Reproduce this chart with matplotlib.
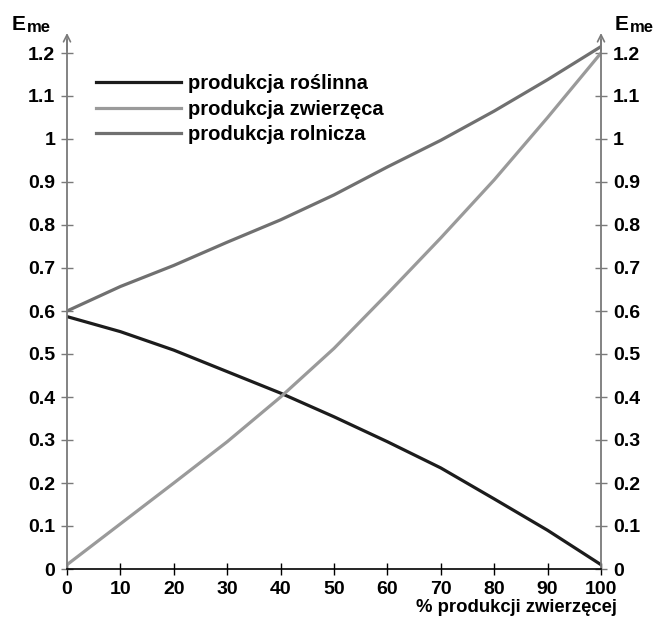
import matplotlib
matplotlib.use('Agg')
import matplotlib.pyplot as plt

plt.rcParams['font.family'] = ['Liberation Sans', 'DejaVu Sans']
plt.rcParams['font.weight'] = 'bold'

# udział produkcji zwierzęcej [%]
udzial = [0, 10, 20, 30, 40, 50, 60, 70, 80, 90, 100]
# Eme
roslinna = [0.587, 0.552, 0.509, 0.459, 0.409, 0.354, 0.296, 0.235, 0.163, 0.090, 0.010]
zwierzeca = [0.010, 0.105, 0.200, 0.296, 0.400, 0.513, 0.640, 0.770, 0.905, 1.050, 1.200]
rolnicza = [0.600, 0.657, 0.706, 0.760, 0.812, 0.870, 0.935, 0.997, 1.065, 1.138, 1.215]

y_ticks = [0, 0.1, 0.2, 0.3, 0.4, 0.5, 0.6, 0.7, 0.8, 0.9, 1, 1.1, 1.2]
y_labels = ['0', '0.1', '0.2', '0.3', '0.4', '0.5', '0.6', '0.7', '0.8', '0.9', '1', '1.1', '1.2']

fig = plt.figure(figsize=(6.57, 6.24), dpi=100)
ax = fig.add_axes([67 / 657, 55 / 624, (601 - 67) / 657, (569 - 40) / 624])

ax.plot(udzial, roslinna, color='#1c1c1c', lw=2.3, label='produkcja roślinna')
ax.plot(udzial, zwierzeca, color='#9a9a9a', lw=2.3, label='produkcja zwierzęca')
ax.plot(udzial, rolnicza, color='#707070', lw=2.3, label='produkcja rolnicza')

ax.set_xlim(0, 100)
ax.set_ylim(0, (569 - 40) / 430)

ax.spines['top'].set_visible(False)
for s in ['left', 'right']:
    ax.spines[s].set_color('#7a7a7a')
    ax.spines[s].set_linewidth(1.3)
ax.spines['bottom'].set_color('black')
ax.spines['bottom'].set_linewidth(1.2)

ax.set_xticks(range(0, 101, 10))
ax.set_yticks(y_ticks)
ax.set_yticklabels(y_labels)
ax.tick_params(axis='x', direction='inout', length=9, width=1, colors='black',
               labelsize=14, pad=4)
ax.tick_params(axis='y', direction='inout', length=9, width=1, color='#7a7a7a',
               labelcolor='black', labelsize=14, pad=4,
               left=True, right=True, labelleft=True, labelright=True)

# strzałki na końcach osi pionowych (otwarty grot)
for xa in [0, 1]:
    ax.annotate('', xy=(xa, 1 + 7 / 529), xytext=(xa, 0.98), xycoords='axes fraction',
                arrowprops=dict(arrowstyle='->,head_length=0.5,head_width=0.25',
                                color='#7a7a7a', lw=1.2, shrinkA=0, shrinkB=0))

# opis osi pionowych: E z indeksem "me"
for x0 in [12, 615]:
    fig.text(x0 / 657, 1 - 30 / 624, 'E', fontsize=15, fontweight='bold',
             ha='left', va='baseline')
    fig.text((x0 + 15) / 657, 1 - 32 / 624, 'me', fontsize=12, fontweight='bold',
             ha='left', va='baseline')

fig.text(617 / 657, 1 - 607 / 624, '% produkcji zwierzęcej', fontsize=13.3,
         fontweight='bold', ha='right', va='center')

ax.legend(loc='upper left', bbox_to_anchor=(21 / 534, 1 - 26 / 529), frameon=False,
          fontsize=14.5, handlelength=4.2, handletextpad=0.35, labelspacing=0.33,
          borderaxespad=0)

fig.savefig('out.png', dpi=100)
